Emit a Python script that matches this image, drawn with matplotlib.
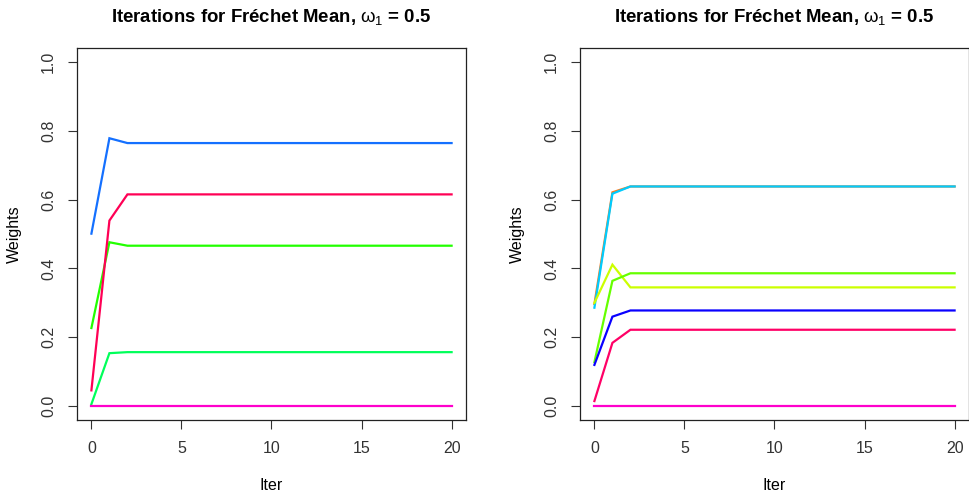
import matplotlib
matplotlib.use("Agg")
import matplotlib.pyplot as plt

plt.rcParams['font.family'] = ['Liberation Sans', 'DejaVu Sans']
plt.rcParams['mathtext.fontset'] = 'custom'
plt.rcParams['mathtext.rm'] = 'Liberation Sans'
plt.rcParams['mathtext.it'] = 'Liberation Sans'

iters = list(range(21))

# left panel weights per iteration
left_series = {
    'springgreen': [0.006, 0.154, 0.157, 0.157, 0.157, 0.157, 0.157, 0.157, 0.157, 0.157, 0.157,
                    0.157, 0.157, 0.157, 0.157, 0.157, 0.157, 0.157, 0.157, 0.157, 0.157],
    'green': [0.227, 0.476, 0.466, 0.466, 0.466, 0.466, 0.466, 0.466, 0.466, 0.466, 0.466,
              0.466, 0.466, 0.466, 0.466, 0.466, 0.466, 0.466, 0.466, 0.466, 0.466],
    'red': [0.046, 0.539, 0.615, 0.615, 0.615, 0.615, 0.615, 0.615, 0.615, 0.615, 0.615,
            0.615, 0.615, 0.615, 0.615, 0.615, 0.615, 0.615, 0.615, 0.615, 0.615],
    'blue': [0.501, 0.778, 0.764, 0.764, 0.764, 0.764, 0.764, 0.764, 0.764, 0.764, 0.764,
             0.764, 0.764, 0.764, 0.764, 0.764, 0.764, 0.764, 0.764, 0.764, 0.764],
    'magenta': [0.0, 0.0, 0.0, 0.0, 0.0, 0.0, 0.0, 0.0, 0.0, 0.0, 0.0,
                0.0, 0.0, 0.0, 0.0, 0.0, 0.0, 0.0, 0.0, 0.0, 0.0],
}
left_colors = {'springgreen': '#00FF5A', 'green': '#22FF00', 'red': '#FF0055',
               'blue': '#1470FF', 'magenta': '#FF00CC'}

# right panel weights per iteration
right_series = {
    'orange': [0.297, 0.621, 0.638, 0.638, 0.638, 0.638, 0.638, 0.638, 0.638, 0.638, 0.638,
               0.638, 0.638, 0.638, 0.638, 0.638, 0.638, 0.638, 0.638, 0.638, 0.638],
    'cyan': [0.286, 0.617, 0.638, 0.638, 0.638, 0.638, 0.638, 0.638, 0.638, 0.638, 0.638,
             0.638, 0.638, 0.638, 0.638, 0.638, 0.638, 0.638, 0.638, 0.638, 0.638],
    'yellowgreen': [0.300, 0.411, 0.345, 0.345, 0.345, 0.345, 0.345, 0.345, 0.345, 0.345, 0.345,
                    0.345, 0.345, 0.345, 0.345, 0.345, 0.345, 0.345, 0.345, 0.345, 0.345],
    'green': [0.128, 0.364, 0.386, 0.386, 0.386, 0.386, 0.386, 0.386, 0.386, 0.386, 0.386,
              0.386, 0.386, 0.386, 0.386, 0.386, 0.386, 0.386, 0.386, 0.386, 0.386],
    'blue': [0.120, 0.260, 0.278, 0.278, 0.278, 0.278, 0.278, 0.278, 0.278, 0.278, 0.278,
             0.278, 0.278, 0.278, 0.278, 0.278, 0.278, 0.278, 0.278, 0.278, 0.278],
    'red': [0.015, 0.184, 0.222, 0.222, 0.222, 0.222, 0.222, 0.222, 0.222, 0.222, 0.222,
            0.222, 0.222, 0.222, 0.222, 0.222, 0.222, 0.222, 0.222, 0.222, 0.222],
    'magenta': [0.0, 0.0, 0.0, 0.0, 0.0, 0.0, 0.0, 0.0, 0.0, 0.0, 0.0,
                0.0, 0.0, 0.0, 0.0, 0.0, 0.0, 0.0, 0.0, 0.0, 0.0],
}
right_colors = {'orange': '#FF7A1A', 'cyan': '#00CCFF', 'yellowgreen': '#CCFF00',
                'green': '#66FF00', 'blue': '#0A00FF', 'red': '#FF0066', 'magenta': '#FF00CC'}

x_ticks = [0, 5, 10, 15, 20]
y_ticks = [0.0, 0.2, 0.4, 0.6, 0.8, 1.0]

W, H = 970, 498
fig = plt.figure(figsize=(9.7, 4.98), dpi=100)

panels = [(77, left_series, left_colors), (580, right_series, right_colors)]
for x0, series, colors in panels:
    ax = fig.add_axes([x0 / W, 1 - 420 / H, 389 / W, 372 / H])
    for name, vals in series.items():
        ax.plot(iters, vals, color=colors[name], lw=1.6, solid_joinstyle='miter')
    ax.set_xlim(-0.8, 20.8)
    ax.set_ylim(-0.04, 1.04)
    ax.set_xticks(x_ticks)
    ax.set_xticklabels([str(t) for t in x_ticks])
    ax.set_yticks(y_ticks)
    ax.set_yticklabels(['%.1f' % t for t in y_ticks], rotation=90, va='center')
    ax.tick_params(length=6.5, width=0.8, labelsize=11.5, pad=8.5, colors='#333333')
    for s in ax.spines.values():
        s.set_linewidth(0.9)
        s.set_color('#222222')
    ax.set_xlabel('Iter', fontsize=11.5, labelpad=16)
    ax.set_ylabel('Weights', fontsize=11.5, labelpad=14)
    ax.set_title(r'Iterations for Fréchet Mean, $\omega_1$ = 0.5', fontsize=13.4,
                 fontweight='bold', pad=19)

fig.savefig('out.png', dpi=100, facecolor='white')
